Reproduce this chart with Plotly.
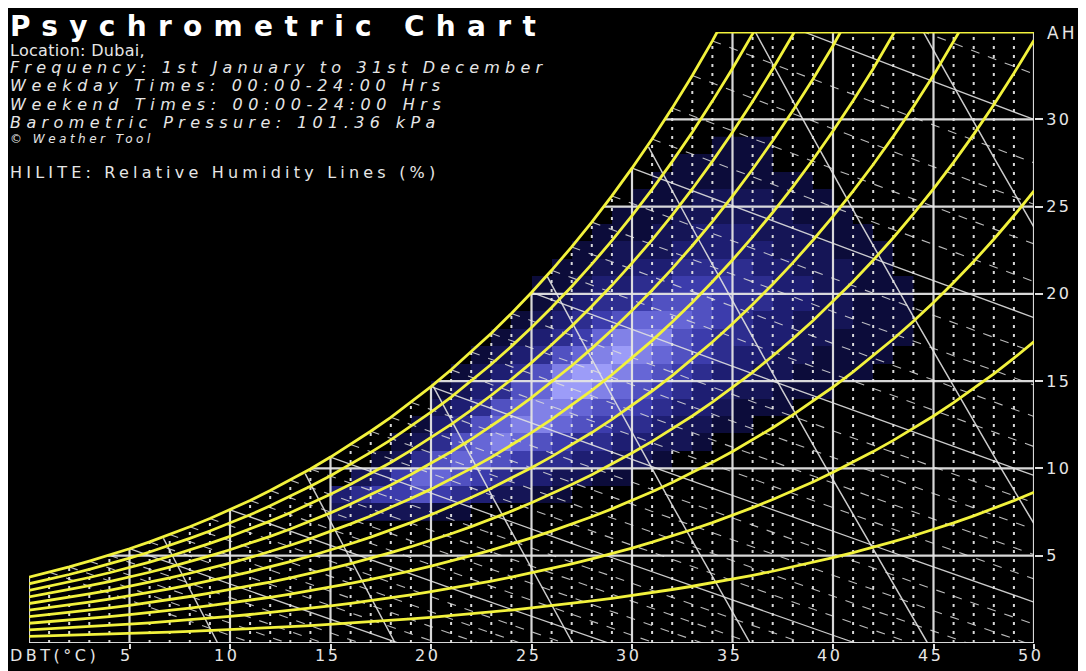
import numpy as np
import plotly.graph_objects as go

# ---------------- data ----------------
PRESSURE_KPA = 101.36
# saturation absolute humidity (g/kg) at 101.36 kPa for DBT 0..50 degC
dbt = list(range(0, 51))
ah_sat = [3.77, 4.06, 4.36, 4.69, 5.03, 5.40, 5.79, 6.21, 6.66, 7.13,
          7.63, 8.16, 8.73, 9.33, 9.97, 10.65, 11.37, 12.13, 12.93, 13.79,
          14.69, 15.65, 16.67, 17.74, 18.88, 20.08, 21.35, 22.69, 24.11, 25.61,
          27.20, 28.87, 30.64, 32.51, 34.49, 36.57, 38.77, 41.10, 43.55, 46.14,
          48.88, 51.76, 54.82, 58.04, 61.44, 65.03, 68.83, 72.84, 77.09, 81.58,
          86.32]
rh_levels = [10, 20, 30, 40, 50, 60, 70, 80, 90, 100]
ah_grid = [5, 10, 15, 20, 25, 30]
dbt_ticks = [5, 10, 15, 20, 25, 30, 35, 40, 45, 50]
ah_ticks = [5, 10, 15, 20, 25, 30]
sv_levels = [0.800, 0.825, 0.850, 0.875, 0.900, 0.925, 0.950]
wb_levels = list(range(1, 39))
top_start_dbt = 34.25  # where saturation meets AH = 35

# frequency bins (lower edges): DBT 15..43, AH 7..28
freq_dbt = list(range(15, 44))
freq_ah = list(range(7, 29))
freq = [
    [2,2,2,2,2,1,1,0,0,0,0,0,0,0,0,0,0,0,0,0,0,0,0,0,0,0,0,0,0],  # 7
    [3,4,5,5,6,5,4,3,2,2,1,1,0,0,0,0,0,0,0,0,0,0,0,0,0,0,0,0,0],  # 8
    [0,2,3,5,7,7,6,5,4,3,3,2,2,1,1,0,0,0,0,0,0,0,0,0,0,0,0,0,0],  # 9
    [0,0,1,2,4,6,7,7,6,5,4,4,3,3,2,2,1,0,0,0,0,0,0,0,0,0,0,0,0],  # 10
    [0,0,0,1,2,4,6,7,8,7,6,5,4,4,3,3,2,2,1,0,0,0,0,0,0,0,0,0,0],  # 11
    [0,0,0,0,1,3,4,6,7,8,8,7,6,5,4,4,3,2,2,1,1,0,0,0,0,0,0,0,0],  # 12
    [0,0,0,0,0,2,3,4,6,7,8,8,7,6,6,5,4,3,3,2,1,1,1,0,0,0,0,0,0],  # 13
    [0,0,0,0,0,1,2,3,4,6,7,9,9,8,7,6,5,4,3,3,2,2,1,1,1,0,0,0,0],  # 14
    [0,0,0,0,0,0,1,2,3,4,6,8,9,9,8,7,6,5,4,3,3,2,2,1,1,1,1,0,0],  # 15
    [0,0,0,0,0,0,0,1,2,3,4,6,7,8,9,8,7,6,5,4,3,3,2,2,1,1,1,1,0],  # 16
    [0,0,0,0,0,0,0,0,1,2,3,4,5,7,8,8,8,6,5,4,4,3,3,2,2,1,1,1,1],  # 17
    [0,0,0,0,0,0,0,0,0,1,2,3,4,5,6,7,7,7,6,5,4,3,3,2,2,2,1,1,1],  # 18
    [0,0,0,0,0,0,0,0,0,0,1,2,3,4,4,5,6,6,6,5,4,4,3,3,2,2,1,1,1],  # 19
    [0,0,0,0,0,0,0,0,0,0,1,1,2,3,3,4,4,5,5,5,4,4,3,3,2,2,1,1,1],  # 20
    [0,0,0,0,0,0,0,0,0,0,0,1,1,2,2,3,3,4,4,4,4,3,3,2,2,2,1,1,0],  # 21
    [0,0,0,0,0,0,0,0,0,0,0,0,1,1,2,2,2,3,3,3,3,3,2,2,2,1,1,1,0],  # 22
    [0,0,0,0,0,0,0,0,0,0,0,0,0,1,1,1,2,2,3,3,3,2,2,2,1,1,1,0,0],  # 23
    [0,0,0,0,0,0,0,0,0,0,0,0,0,0,1,1,1,2,2,2,2,2,2,1,1,1,0,0,0],  # 24
    [0,0,0,0,0,0,0,0,0,0,0,0,0,0,0,1,1,1,2,2,2,2,1,1,1,0,0,0,0],  # 25
    [0,0,0,0,0,0,0,0,0,0,0,0,0,0,0,0,1,1,1,1,1,1,1,1,0,0,0,0,0],  # 26
    [0,0,0,0,0,0,0,0,0,0,0,0,0,0,0,0,0,1,1,1,1,1,0,0,0,0,0,0,0],  # 27
    [0,0,0,0,0,0,0,0,0,0,0,0,0,0,0,0,0,0,0,1,1,1,0,0,0,0,0,0,0],  # 28
]

# text lines: (text, italic, font size, letter spacing px, centre y px on page)
info_lines = [
    ("Location: Dubai,", False, 16, 0.3, 51),
    ("Frequency: 1st January to 31st December", True, 16, 5.2, 68),
    ("Weekday Times: 00:00-24:00 Hrs", True, 16, 5.6, 86),
    ("Weekend Times: 00:00-24:00 Hrs", True, 16, 5.6, 104),
    ("Barometric Pressure: 101.36 kPa", True, 16, 5.4, 122),
    ("© Weather Tool", True, 12, 3.5, 139),
    ("HILITE: Relative Humidity Lines (%)", False, 16, 4.2, 172),
]

# ---------------- geometry ----------------
OFF = 8                      # page body margin
W, H = 1086 - OFF, 671 - OFF
L, T = 29 - OFF, 32 - OFF    # plot area on page: x 29..1034, y 32..643
PW, PH = 1005, 611
R, B = W - L - PW, H - T - PH
YELLOW = "#f2f23c"
GRID = "rgba(228,228,228,0.95)"
TXT = "#e6e6e6"
FONT = "DejaVu Sans"


def px(xpage):
    return (xpage - OFF - L) / PW


def py(ypage):
    return (T + PH - (ypage - OFF)) / PH


def spaced(txt, ls):
    return f'<span style="letter-spacing:{ls}px">{txt}</span>'


def lines_trace(xs, ys, color, width, dash="solid"):
    return go.Scatter(x=xs, y=ys, mode="lines", hoverinfo="skip", showlegend=False,
                      line=dict(color=color, width=width, dash=dash))


fig = go.Figure()

# frequency heatmap
z = [[(v if v > 0 else None) for v in row] for row in freq]
fig.add_trace(go.Heatmap(
    x=[d + 0.5 for d in freq_dbt], y=[a + 0.5 for a in freq_ah], z=z,
    zmin=1, zmax=9, showscale=False, hoverinfo="skip",
    colorscale=[[0.0, "#0c0c3a"], [0.25, "#1e1e72"], [0.5, "#3c3cac"],
                [0.75, "#6666d6"], [1.0, "#9c9cf8"]]))

sat_interp = lambda t: np.interp(t, dbt, ah_sat)

# dotted 1-degree verticals
xs, ys = [], []
for t in dbt[1:-1]:
    if t % 5:
        xs += [t, t, None]
        ys += [0, ah_sat[t], None]
fig.add_trace(lines_trace(xs, ys, GRID, 2.0, "3px,6px"))

# wet-bulb lines (solid every 5, dashed otherwise)
xs_s, ys_s, xs_d, ys_d = [], [], [], []
for twb in wb_levels:
    ws = np.interp(twb, dbt, ah_sat) / 1000.0
    tt = np.arange(twb, 50.01, 0.5)
    ww = ((2501 - 2.326 * twb) * ws - 1.006 * (tt - twb)) / (2501 + 1.86 * tt - 4.186 * twb) * 1000
    keep = ww > -3
    tx, wy = list(tt[keep]), list(ww[keep])
    if twb % 5 == 0:
        xs_s += tx + [None]; ys_s += wy + [None]
    else:
        xs_d += tx + [None]; ys_d += wy + [None]
fig.add_trace(lines_trace(xs_d, ys_d, "rgba(220,220,220,0.85)", 1.1, "9px,9px"))
fig.add_trace(lines_trace(xs_s, ys_s, "rgba(225,225,225,0.9)", 1.3))

# specific volume lines
xs, ys = [], []
for v in sv_levels:
    wgrid = np.arange(0, 40.01, 0.1)
    tgrid = v * PRESSURE_KPA / (0.287 * (1 + 1.6078 * wgrid / 1000)) - 273.15
    keep = wgrid <= sat_interp(tgrid)
    xs += list(tgrid[keep]) + [None]
    ys += list(wgrid[keep]) + [None]
fig.add_trace(lines_trace(xs, ys, "rgba(225,225,225,0.9)", 1.5))

# solid 5-degree verticals and AH horizontals
xs, ys = [], []
for t in dbt_ticks[:-1]:
    xs += [t, t, None]
    ys += [0, ah_sat[t], None]
for a in ah_grid:
    xs += [float(np.interp(a, ah_sat, dbt)), 50, None]
    ys += [a, a, None]
xs += [0, 0, None, 0, 50, None, 50, 50, None]
ys += [ah_sat[0], 0, None, 0, 0, None, 0, 35, None]
fig.add_trace(lines_trace(xs, ys, GRID, 2.2))

# relative humidity curves
for rh in rh_levels:
    fig.add_trace(lines_trace(dbt, [rh / 100 * a for a in ah_sat], YELLOW, 2.8))
fig.add_trace(lines_trace([top_start_dbt, 50], [35, 35], YELLOW, 2.8))

# ---------------- layout ----------------
annotations = [dict(
    text="<b>" + spaced("Psychrometric Chart", 11.3) + "</b>",
    x=px(8), y=py(8), xref="paper", yref="paper", xanchor="left", yanchor="top",
    showarrow=False, font=dict(family=FONT, size=28, color="white"))]
for txt, ital, size, ls, cy in info_lines:
    t = f"<i>{txt}</i>" if ital else txt
    annotations.append(dict(
        text=spaced(t, ls), x=px(8), y=py(cy), xref="paper", yref="paper",
        xanchor="left", yanchor="middle", showarrow=False,
        font=dict(family=FONT, size=size, color=TXT)))
annotations.append(dict(
    text=spaced("DBT(°C)", 3.5), x=px(8), y=py(655), xref="paper", yref="paper",
    xanchor="left", yanchor="middle", showarrow=False,
    font=dict(family=FONT, size=16, color=TXT)))
annotations.append(dict(
    text=spaced("AH", 3), x=px(1045), y=py(33), xref="paper", yref="paper",
    xanchor="left", yanchor="middle", showarrow=False,
    font=dict(family=FONT, size=17, color=TXT)))
# DBT tick labels
for v in dbt_ticks:
    annotations.append(dict(
        text=spaced(str(v), 2.5), x=v - 0.15, y=py(655), xref="x", yref="paper",
        xanchor="center", yanchor="middle", showarrow=False,
        font=dict(family=FONT, size=16, color=TXT)))

fig.update_layout(
    width=W, height=H, margin=dict(l=L, r=R, t=T, b=B, autoexpand=False),
    paper_bgcolor="black", plot_bgcolor="black",
    xaxis=dict(range=[0, 50], showgrid=False, zeroline=False, showline=False, automargin=False,
               tickvals=dbt_ticks, showticklabels=False,
               ticks="outside", ticklen=5, tickwidth=2, tickcolor="#dddddd"),
    yaxis=dict(range=[0, 35], side="right", showgrid=False, zeroline=False, showline=False,
               automargin=False,
               tickvals=ah_ticks, ticktext=[spaced(str(v), 2.5) for v in ah_ticks],
               ticks="outside", ticklen=8, tickwidth=1.5,
               tickcolor="#dddddd", tickfont=dict(family=FONT, size=16, color=TXT)),
    annotations=annotations,
)

fig.write_html("out.html")
